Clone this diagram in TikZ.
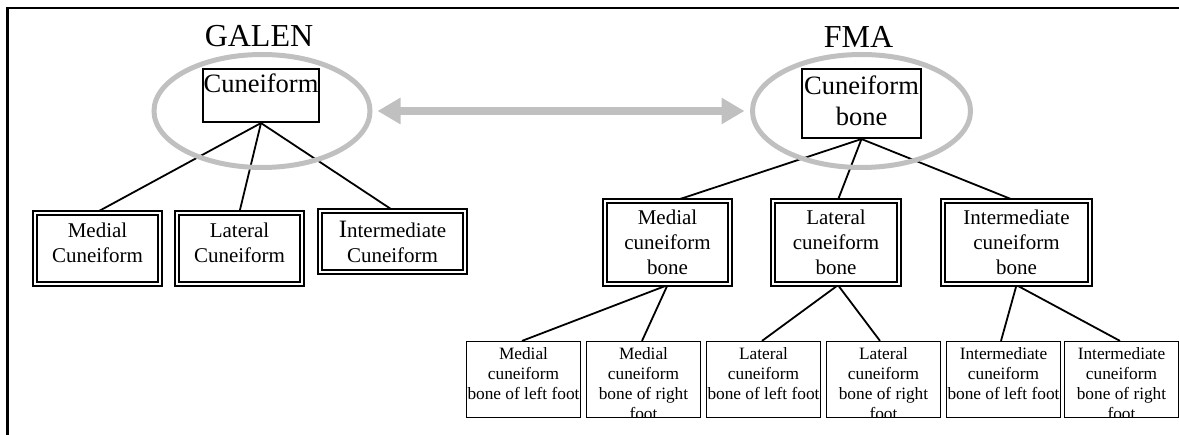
\documentclass[tikz,border=0pt]{standalone}
\usepackage{fontspec}
\setmainfont{Liberation Serif}
\usetikzlibrary{arrows.meta,shapes.geometric}
\definecolor{ringgrey}{HTML}{C0C0C0}
\pgfdeclarelayer{bg}
\pgfsetlayers{bg,main}
\begin{document}
\begin{tikzpicture}[x=1pt,y=-1pt,
  title/.style={font=\fontsize{32}{36}\selectfont, inner sep=0pt, anchor=base},
  topbox/.style={draw, line width=1.6pt, inner sep=0pt, align=center, font=\fontsize{26.5}{31}\selectfont},
  midbox/.style={draw, line width=1.9pt, double, double distance=2pt, inner sep=0pt, align=center, font=\fontsize{21}{25}\selectfont},
  leafbox/.style={draw, line width=1.5pt, minimum width=113.7pt, minimum height=75.7pt, inner sep=0pt},
  leaftext/.style={inner sep=0pt, anchor=north, align=center, font=\fontsize{17.3}{20}\selectfont},
  ring/.style={draw=ringgrey, line width=5pt, ellipse, inner sep=0pt},
  link/.style={line width=1.8pt},
  bigarrow/.style={draw=ringgrey, line width=8pt, {Triangle[length=23pt,width=25pt]}-{Triangle[length=23pt,width=25pt]}},
]
\useasboundingbox (0,0) rectangle (1179,435);
% frame
\draw[line width=2.8pt, line join=miter] (7.7,435) -- (7.7,8) -- (1179,8);
% titles
\node[title] (galen) at (259,47) {GALEN};
\node[title] (fma) at (858.5,48) {FMA};
% top boxes
\node[topbox, minimum width=116.5pt, text height=24.25pt, text depth=29.25pt] (gc) at (261,95.5) {Cuneiform};
\node[topbox, minimum width=119.5pt, minimum height=69.5pt] (fc) at (861.5,103.5) {Cuneiform\\bone\\[-25pt]\mbox{}};
% GALEN children
\node[midbox, minimum width=125.4pt, minimum height=71.4pt] (gm) at (97.5,248.5) {Medial\\Cuneiform\\[-13pt]\mbox{}};
\node[midbox, minimum width=125.4pt, minimum height=71.4pt] (gl) at (239.5,248.5) {Lateral\\Cuneiform\\[-13pt]\mbox{}};
\node[midbox, minimum width=145pt, minimum height=61pt] (gi) at (392.5,241.5) {{\fontsize{25}{25}\selectfont I}ntermediate\\Cuneiform};
% FMA children
\node[midbox, minimum width=125.4pt, minimum height=83.4pt] (fm) at (667.5,242.5) {Medial\\cuneiform\\bone};
\node[midbox, minimum width=126.4pt, minimum height=83.4pt] (fl) at (836,242.5) {Lateral\\cuneiform\\bone};
\node[midbox, minimum width=147.4pt, minimum height=83.4pt] (fi) at (1016.5,242.5) {Intermediate\\cuneiform\\bone};
% leaves
\node[leafbox] (l1) at (523.5,379.5) {};
\node[leafbox] (l2) at (643.5,379.5) {};
\node[leafbox] (l3) at (763.5,379.5) {};
\node[leafbox] (l4) at (883.5,379.5) {};
\node[leafbox] (l5) at (1003.5,379.5) {};
\node[leafbox] (l6) at (1121.5,379.5) {};
\begin{scope}
\clip (460,330) rectangle (1179,417.35);
\node[leaftext] (t1) at (523.5,347) {Medial\\cuneiform\\bone of left foot};
\node[leaftext] (t2) at (643.5,347) {Medial\\cuneiform\\bone of right\\foot};
\node[leaftext] (t3) at (763.5,347) {Lateral\\cuneiform\\bone of left foot};
\node[leaftext] (t4) at (883.5,347) {Lateral\\cuneiform\\bone of right\\foot};
\node[leaftext] (t5) at (1003.5,347) {Intermediate\\cuneiform\\bone of left foot};
\node[leaftext] (t6) at (1121.5,347) {Intermediate\\cuneiform\\bone of right\\foot};
\end{scope}
% connectors
\begin{pgfonlayer}{bg}
\draw[link] (gc.south) -- (gm.north);
\draw[link] (gc.south) -- (gl.north);
\draw[link] (gc.south) -- (gi.north);
\draw[link] (fc.south) -- ([xshift=10pt]fm.north);
\draw[link] (fc.south) -- ([xshift=2pt]fl.north);
\draw[link] (fc.south) -- ([xshift=-3.5pt]fi.north);
\draw[link] (fm.south) -- ([xshift=-1.5pt]l1.north);
\draw[link] (fm.south) -- ([xshift=-1.5pt]l2.north);
\draw[link] ([xshift=2pt]fl.south) -- ([xshift=-1.5pt]l3.north);
\draw[link] ([xshift=2pt]fl.south) -- ([xshift=-3.5pt]l4.north);
\draw[link] (fi.south) -- ([xshift=-2.5pt]l5.north);
\draw[link] (fi.south) -- ([xshift=-1.5pt]l6.north);
\end{pgfonlayer}
% rings and arrow
\node[ring, minimum width=216pt, minimum height=113pt] (gr) at (262,111) {};
\node[ring, minimum width=218pt, minimum height=113pt] (fr) at (861.5,111) {};
\draw[bigarrow] ([xshift=5pt]gr.east) -- ([xshift=-5.5pt]fr.west);
\end{tikzpicture}
\end{document}
